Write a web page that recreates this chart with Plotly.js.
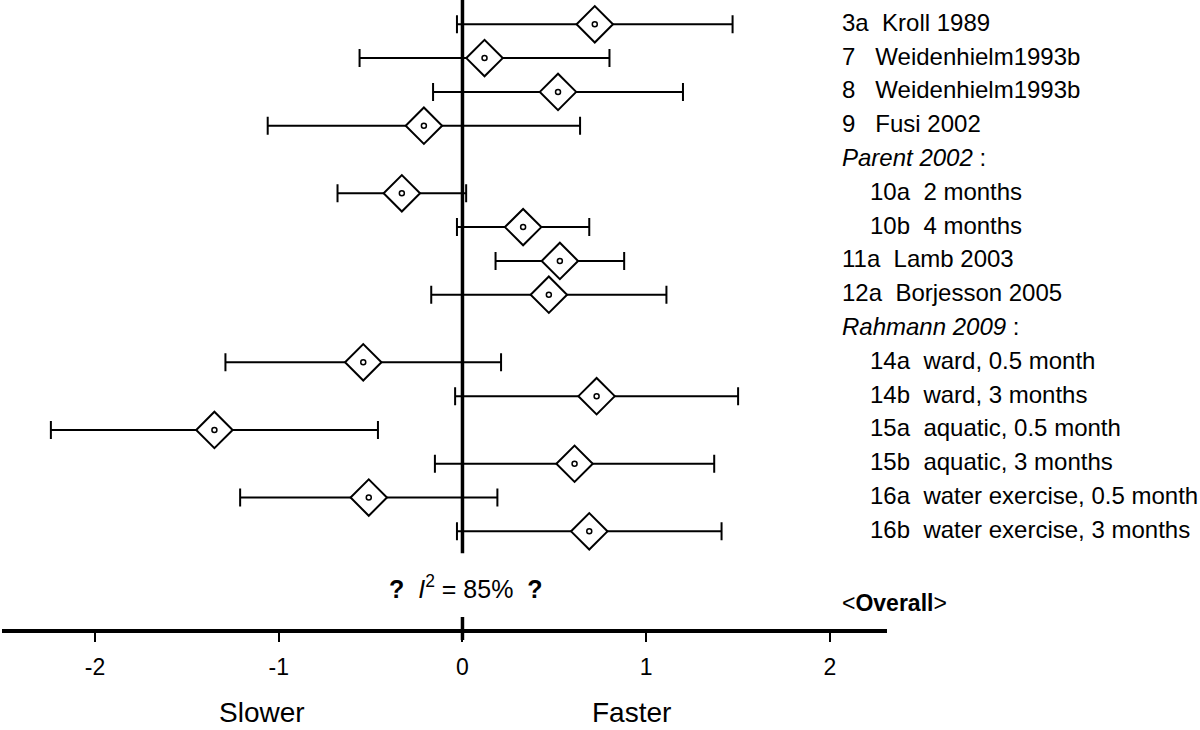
<!DOCTYPE html>
<html>
<head>
<meta charset="utf-8">
<script src="https://cdn.plot.ly/plotly-3.0.1.min.js"></script>
<style>html,body{margin:0;padding:0;background:#fff;}#chart{width:1200px;height:730px;}</style>
</head>
<body>
<div id="chart"></div>
<script>
// ---- data ----
const studyIds   = ['3a','7','8','9','10a','10b','11a','12a','14a','14b','15a','15b','16a','16b'];
const studyNames = ['Kroll 1989','Weidenhielm1993b','Weidenhielm1993b','Fusi 2002','2 months','4 months',
                    'Lamb 2003','Borjesson 2005','ward, 0.5 month','ward, 3 months','aquatic, 0.5 month',
                    'aquatic, 3 months','water exercise, 0.5 month','water exercise, 3 months'];
const studyGroup = ['','','','','Parent 2002','Parent 2002','','','Rahmann 2009','Rahmann 2009',
                    'Rahmann 2009','Rahmann 2009','Rahmann 2009','Rahmann 2009'];
const estimate   = [0.72, 0.12, 0.52, -0.21, -0.33, 0.33, 0.53, 0.47, -0.54, 0.73, -1.35, 0.61, -0.51, 0.69];
const ciLow      = [-0.03, -0.56, -0.16, -1.06, -0.68, -0.03, 0.18, -0.17, -1.29, -0.04, -2.24, -0.15, -1.21, -0.03];
const ciHigh     = [1.47, 0.80, 1.20, 0.64, 0.02, 0.69, 0.88, 1.11, 0.21, 1.50, -0.46, 1.37, 0.19, 1.41];
const xTicks     = [-2, -1, 0, 1, 2];
const heterogeneity = '85%';
const leftLabel = 'Slower', rightLabel = 'Faster', overallLabel = 'Overall';

// ---- build row positions (group headers take a row) ----
const rowOf = [], headers = [];
let row = 0, prevGroup = '';
studyIds.forEach((id, i) => {
  const g = studyGroup[i];
  if (g && g !== prevGroup) { headers.push({text: g, row: row}); row++; }
  prevGroup = g;
  rowOf.push(row); row++;
});

const FONT = 'Arial, "Liberation Sans", sans-serif';
const NB = '\u00a0';

const traceCI = {
  type: 'scatter', mode: 'markers', x: estimate, y: rowOf, hoverinfo: 'skip',
  marker: {symbol: 'diamond', size: 28, color: '#fff', line: {color: '#000', width: 2}},
  error_x: {type: 'data', symmetric: false,
            array: estimate.map((e, i) => ciHigh[i] - e),
            arrayminus: estimate.map((e, i) => e - ciLow[i]),
            color: '#000', thickness: 2, width: 9},
  cliponaxis: false, showlegend: false
};
const traceDot = {
  type: 'scatter', mode: 'markers', x: estimate, y: rowOf, hoverinfo: 'skip',
  marker: {symbol: 'circle-open', size: 5, color: '#000', line: {color: '#000', width: 1.5}},
  cliponaxis: false, showlegend: false
};

const annotations = [];
studyIds.forEach((id, i) => {
  const indent = studyGroup[i] !== '';
  const gap = id.length === 1 ? NB + NB + NB : NB + NB;
  annotations.push({
    xref: 'paper', yref: 'y', x: indent ? 868 / 1200 : 840 / 1200, y: rowOf[i], yshift: 2,
    xanchor: 'left', yanchor: 'middle', showarrow: false,
    text: id + gap + studyNames[i], font: {family: FONT, size: 24, color: '#000'}
  });
});
headers.forEach(h => {
  annotations.push({
    xref: 'paper', yref: 'y', x: 840 / 1200, y: h.row, yshift: 2, xanchor: 'left', yanchor: 'middle',
    showarrow: false, text: '<i>' + h.text + '</i>' + NB + ':',
    font: {family: FONT, size: 24, color: '#000'}
  });
});
annotations.push({
  xref: 'paper', yref: 'y', x: 840 / 1200, y: 17.13, xanchor: 'left', yanchor: 'middle', showarrow: false,
  text: '&lt;<b>' + overallLabel + '</b>&gt;', font: {family: FONT, size: 23, color: '#000'}
});
annotations.push({
  xref: 'x', yref: 'y', x: 0.02, y: 16.64, xanchor: 'center', yanchor: 'middle', showarrow: false,
  text: '<b>?</b>' + NB + NB + '<i>I</i><sup>2</sup> = ' + heterogeneity + NB + NB + '<b>?</b>',
  font: {family: FONT, size: 25, color: '#000'}
});
annotations.push({
  xref: 'x', yref: 'paper', x: -1.093, y: 0, xanchor: 'center', yanchor: 'bottom', showarrow: false,
  text: leftLabel, font: {family: FONT, size: 28, color: '#000'}
});
annotations.push({
  xref: 'x', yref: 'paper', x: 0.921, y: 0, xanchor: 'center', yanchor: 'bottom', showarrow: false,
  text: rightLabel, font: {family: FONT, size: 28, color: '#000'}
});

const layout = {
  width: 1200, height: 730,
  margin: {l: 0, r: 0, t: 0, b: 0, pad: 0},
  paper_bgcolor: '#fff', plot_bgcolor: '#fff',
  showlegend: false,
  xaxis: {
    domain: [2 / 1200, 887.3 / 1200], range: [-2.506, 2.312], fixedrange: true,
    showgrid: false, zeroline: false, showline: true, linecolor: '#000', linewidth: 4,
    ticks: 'outside', ticklen: 9, tickwidth: 2, tickcolor: '#000',
    tickmode: 'array', tickvals: xTicks, ticktext: xTicks.map(String),
    ticklabelstandoff: 6,
    tickfont: {family: FONT, size: 23, color: '#000'}
  },
  yaxis: {
    domain: [(730 - 628.7) / 730, 1], range: [17.88, -0.719], fixedrange: true,
    visible: false, showgrid: false, zeroline: false
  },
  shapes: [
    {type: 'line', layer: 'below', xref: 'x', yref: 'paper', x0: 0, x1: 0,
     y0: (730 - 553.3) / 730, y1: 1, line: {color: '#000', width: 3.5}},
    {type: 'line', layer: 'above', xref: 'x', yref: 'paper', x0: 0, x1: 0,
     y0: (730 - 640) / 730, y1: (730 - 617) / 730, line: {color: '#000', width: 3.5}}
  ],
  annotations: annotations
};

Plotly.newPlot('chart', [traceCI, traceDot], layout, {displayModeBar: false, staticPlot: true});
</script>
</body>
</html>
